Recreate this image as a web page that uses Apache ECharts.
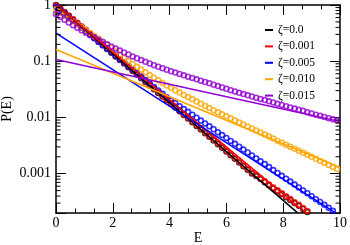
<!DOCTYPE html>
<html>
<head>
<meta charset="utf-8">
<script src="https://cdn.jsdelivr.net/npm/echarts@6/dist/echarts.min.js"></script>
<style>html,body{margin:0;padding:0;background:#fff;}#c{width:350px;height:245px;}</style>
</head>
<body>
<div id="c"></div>
<script>
// ---- data ----
const E = [0,0.15,0.3,0.45,0.6,0.75,0.9,1.05,1.2,1.35,1.5,1.65,1.8,1.95,2.1,2.25,2.4,2.55,2.7,2.85,3,3.15,3.3,3.45,3.6,3.75,3.9,4.05,4.2,4.35,4.5,4.65,4.8,4.95,5.1,5.25,5.4,5.55,5.7,5.85,6,6.15,6.3,6.45,6.6,6.75,6.9,7.05,7.2,7.35,7.5,7.65,7.8,7.95,8.1,8.25,8.4,8.55,8.7,8.85,9,9.15,9.3,9.45,9.6,9.75,9.9];

const simZeta0000 = [1,0.861,0.741,0.638,0.549,0.472,0.407,0.35,0.301,0.259,0.223,0.192,0.165,0.142,0.122,0.105,0.0907,0.0781,0.0672,0.0578,0.0498,0.0429,0.0369,0.0317,0.0273,0.0235,0.0202,0.0174,0.015,0.0129,0.0111,0.00956,0.00823,0.00708,0.0061,0.00525,0.00452,0.00389,0.00335,0.00288,0.00248,0.00213,0.00184,0.00158,0.00136,0.00117,0.00101,0.000908,0.000801,0.000705,0.00062,0.000546,0.000487,0.000434,0.000383,0.00034,0.0003,0.000268,0.000236,0.000209];

const simZeta0001 = [0.99,0.87,0.752,0.65,0.562,0.485,0.42,0.362,0.312,0.269,0.232,0.2,0.172,0.148,0.127,0.109,0.0943,0.0812,0.0699,0.0601,0.0518,0.0446,0.0384,0.033,0.0284,0.0244,0.021,0.0181,0.0156,0.0134,0.0115,0.00994,0.00856,0.00736,0.00634,0.00546,0.0047,0.00405,0.00348,0.003,0.00258,0.00222,0.00191,0.00164,0.00141,0.00122,0.00105,0.000944,0.000833,0.000733,0.000645,0.000568,0.000506,0.000451,0.000398,0.000354,0.000312,0.000279,0.000245,0.000217];

const simZeta0005 = [0.933,0.807,0.698,0.604,0.524,0.454,0.394,0.341,0.296,0.257,0.223,0.193,0.168,0.146,0.126,0.109,0.0948,0.0823,0.0714,0.0619,0.0537,0.0465,0.0402,0.0348,0.0302,0.0263,0.0229,0.0201,0.0179,0.0159,0.0141,0.0126,0.0112,0.00993,0.00882,0.00783,0.00695,0.00617,0.00548,0.00486,0.00432,0.00383,0.0034,0.00302,0.00268,0.00238,0.00211,0.00187,0.00166,0.00148,0.00131,0.00116,0.00103,0.000916,0.000814,0.000723,0.000641,0.000569,0.000505,0.000449,0.000398,0.000353,0.000314,0.000279,0.000247,0.000219];

const simZeta0010 = [0.832,0.735,0.649,0.573,0.508,0.452,0.402,0.357,0.318,0.282,0.251,0.222,0.196,0.173,0.151,0.132,0.115,0.1007,0.0895,0.0796,0.0708,0.0634,0.0568,0.0508,0.0457,0.0412,0.0372,0.0336,0.0305,0.0277,0.0251,0.023,0.021,0.0192,0.0175,0.016,0.01466,0.01343,0.01236,0.01138,0.01047,0.00964,0.00887,0.00817,0.00752,0.00692,0.00637,0.00586,0.0054,0.00497,0.00457,0.00421,0.00387,0.00356,0.00328,0.00302,0.00278,0.00256,0.00236,0.00217,0.002,0.00184,0.00169,0.00156,0.00143,0.00132,0.00121];

const simZeta0015 = [0.692,0.615,0.547,0.486,0.437,0.394,0.355,0.321,0.291,0.264,0.24,0.219,0.2,0.183,0.168,0.155,0.143,0.132,0.122,0.113,0.105,0.0977,0.0912,0.0851,0.0798,0.075,0.0705,0.0664,0.0628,0.0594,0.0562,0.0532,0.0504,0.0476,0.0451,0.0427,0.0404,0.0382,0.0361,0.0342,0.0324,0.0306,0.029,0.0274,0.0261,0.0248,0.0236,0.0225,0.0214,0.0204,0.0194,0.0185,0.0175,0.0167,0.0159,0.0151,0.0144,0.0137,0.0131,0.0124,0.0118,0.0112,0.0107,0.0102,0.00971,0.00925,0.00879];

// fitted straight lines (two end points each)
const fitZeta0000E = [0, 8.5],  fitZeta0000P = [1, 0.000203];
const fitZeta0001E = [0, 8.8],  fitZeta0001P = [1, 0.0002];
const fitZeta0005E = [0, 9.8],  fitZeta0005P = [0.316, 0.000207];
const fitZeta0010E = [0, 10],   fitZeta0010P = [0.162, 0.00129];
const fitZeta0015E = [0, 10],   fitZeta0015P = [0.107, 0.00851];

const legendNames = ['ζ=0.0','ζ=0.001','ζ=0.005','ζ=0.010','ζ=0.015'];
const colors = ['#000000','#ff0000','#0000ff','#ffa500','#9400d3'];

const xMin = 0, xMax = 10, xInterval = 2;
const yMin = 0.0002, yMax = 1;
const yMinorTicks = [0.0003,0.0004,0.0005,0.0006,0.0007,0.0008,0.0009,
  0.002,0.003,0.004,0.005,0.006,0.007,0.008,0.009,
  0.02,0.03,0.04,0.05,0.06,0.07,0.08,0.09,
  0.2,0.3,0.4,0.5,0.6,0.7,0.8,0.9];

// ---- build options ----
const FONT = 'Liberation Serif';
const zip = (xs, ys) => ys.map((y, i) => [xs[i], y]);
const sims = [simZeta0000, simZeta0001, simZeta0005, simZeta0010, simZeta0015];
const fitsE = [fitZeta0000E, fitZeta0001E, fitZeta0005E, fitZeta0010E, fitZeta0015E];
const fitsP = [fitZeta0000P, fitZeta0001P, fitZeta0005P, fitZeta0010P, fitZeta0015P];

const series = [];
sims.forEach((s, i) => {
  series.push({
    type: 'scatter', name: 'sim ' + legendNames[i], silent: true,
    data: zip(E, s), symbol: 'circle', symbolSize: 4.9,
    itemStyle: { color: 'rgba(0,0,0,0)', borderColor: colors[i], borderWidth: 1.6 },
    z: 2
  });
});
fitsE.forEach((xs, i) => {
  series.push({
    type: 'line', name: legendNames[i], silent: true,
    data: zip(xs, fitsP[i]), symbol: 'none', showSymbol: false,
    lineStyle: { color: colors[i], width: 1.5 },
    itemStyle: { color: colors[i] },
    z: 3
  });
});
series.push({
  type: 'custom', coordinateSystem: 'cartesian2d', silent: true, clip: false, z: 6,
  data: yMinorTicks.map(v => [xMin, v]),
  encode: { x: 0, y: 1 },
  renderItem: function (params, api) {
    const v = api.value(1);
    const pl = api.coord([xMin, v]);
    const pr = api.coord([xMax, v]);
    const st = { stroke: '#000', lineWidth: 1 };
    return { type: 'group', children: [
      { type: 'line', shape: { x1: pl[0], y1: pl[1], x2: pl[0] + 4.5, y2: pl[1] }, style: st },
      { type: 'line', shape: { x1: pr[0], y1: pr[1], x2: pr[0] - 4.5, y2: pr[1] }, style: st }
    ]};
  }
});

const axisLineStyle = { show: true, onZero: false, lineStyle: { color: '#000', width: 1.5 } };
const isDecade = v => { const l = Math.log10(v); return Math.abs(l - Math.round(l)) < 1e-6; };

const option = {
  animation: false,
  backgroundColor: '#fff',
  grid: { left: 56, right: 10, top: 5, bottom: 32, containLabel: false, outerBoundsMode: 'none' },
  legend: {
    data: legendNames, orient: 'vertical', left: 260, top: 19,
    icon: 'rect', itemWidth: 8, itemHeight: 2, itemGap: 4.4, selectedMode: false,
    textStyle: { fontFamily: FONT, fontSize: 11.5, color: '#000', lineHeight: 11 }
  },
  xAxis: [{
    type: 'value', min: xMin, max: xMax, interval: xInterval, position: 'bottom',
    name: 'E', nameLocation: 'middle', nameGap: 18, nameMoveOverlap: false,
    nameTextStyle: { fontFamily: FONT, fontSize: 14, color: '#000' },
    axisLine: axisLineStyle,
    axisTick: { show: true, inside: true, length: 10, lineStyle: { color: '#000', width: 1 } },
    minorTick: { show: true, splitNumber: 3, length: 4.5, lineStyle: { color: '#000', width: 1 } },
    axisLabel: { margin: 3, fontFamily: FONT, fontSize: 14, color: '#000' },
    splitLine: { show: false }
  }, {
    type: 'value', min: xMin, max: xMax, interval: xInterval, position: 'top',
    axisLine: axisLineStyle,
    axisTick: { show: true, inside: true, length: 10, lineStyle: { color: '#000', width: 1 } },
    minorTick: { show: true, splitNumber: 3, length: 4.5, lineStyle: { color: '#000', width: 1 } },
    axisLabel: { show: false }, splitLine: { show: false }
  }],
  yAxis: [{
    type: 'log', min: yMin, max: yMax, logBase: 10, position: 'left',
    name: 'P(E)', nameLocation: 'middle', nameGap: 42, nameMoveOverlap: false,
    nameTextStyle: { fontFamily: FONT, fontSize: 14, color: '#000' },
    axisLine: axisLineStyle,
    axisTick: { show: true, inside: true, length: 10, lineStyle: { color: '#000', width: 1 } },
    axisLabel: { margin: 5, fontFamily: FONT, fontSize: 14, color: '#000',
      formatter: v => isDecade(v) ? String(+Number(v).toPrecision(1)) : '' },
    splitLine: { show: false }
  }, {
    type: 'log', min: yMin, max: yMax, logBase: 10, position: 'right',
    axisLine: axisLineStyle,
    axisTick: { show: true, inside: true, length: 10, lineStyle: { color: '#000', width: 1 } },
    axisLabel: { show: false }, splitLine: { show: false }
  }],
  series: series
};

const chart = echarts.init(document.getElementById('c'), null, { renderer: 'canvas' });
chart.setOption(option);
</script>
</body>
</html>
